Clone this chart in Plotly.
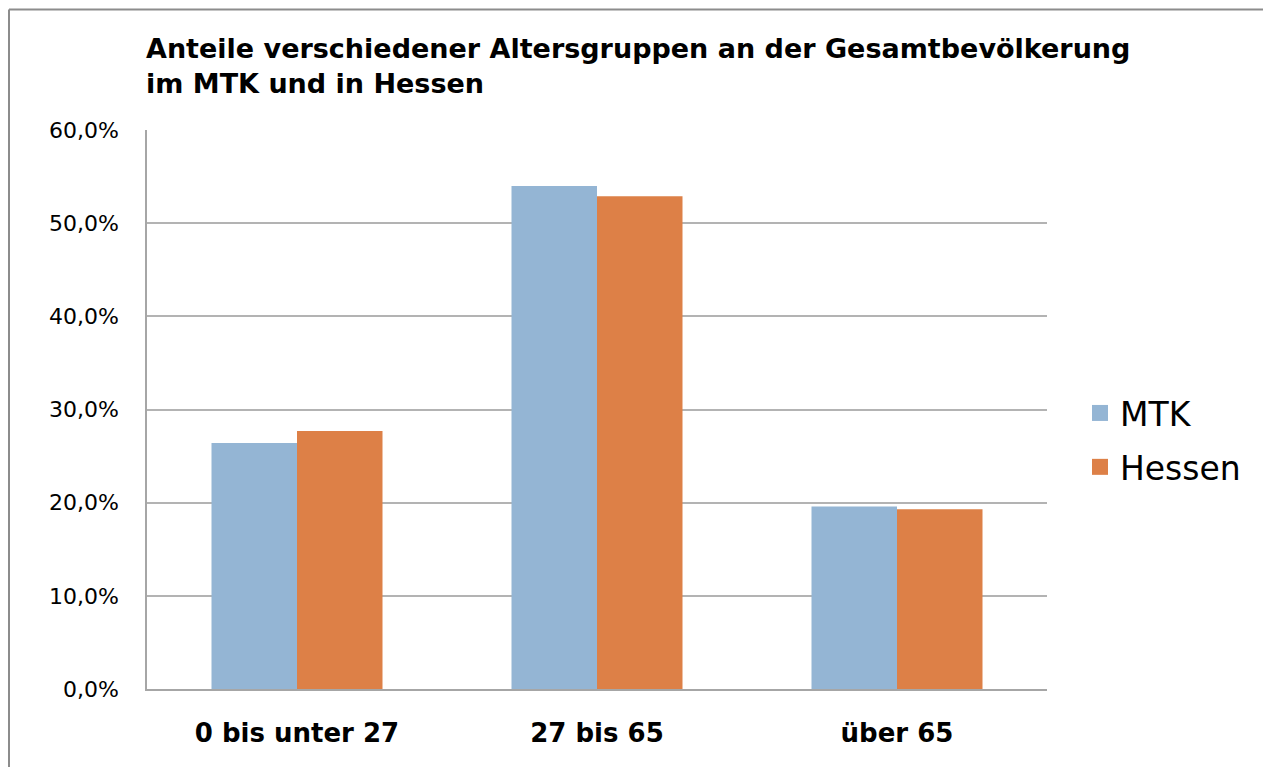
import plotly.graph_objects as go

categories = ["0 bis unter 27", "27 bis 65", "über 65"]
mtk = [26.4, 54.0, 19.6]
hessen = [27.7, 52.9, 19.3]
series_names = ["MTK", "Hessen"]
colors = ["#94B5D4", "#DD8047"]
y_ticks = [0, 10, 20, 30, 40, 50, 60]
y_tick_labels = ["0,0%", "10,0%", "20,0%", "30,0%", "40,0%", "50,0%", "60,0%"]

OFF = 8  # page body margin
W, H = 1271 - OFF, 767 - OFF
L, T = 147 - OFF, 130 - OFF
R = W - (1047 - OFF)
B = H - (689 - OFF)
pw, ph = W - L - R, H - T - B

def px_x(sx):  # screen x -> paper x
    return (sx - OFF - L) / pw

def px_y(sy):  # screen y -> paper y
    return (H - B - (sy - OFF)) / ph

fig = go.Figure()
for name, vals, col in zip(series_names, [mtk, hessen], colors):
    fig.add_trace(go.Bar(x=categories, y=vals, name=name, marker=dict(color=col, line=dict(width=0)),
                         showlegend=False))
for i, (name, col) in enumerate(zip(series_names, colors)):
    fig.add_trace(go.Scatter(x=[None], y=[None], mode="markers", name=name,
                             marker=dict(symbol="square", size=18, color=col),
                             legendgroup=f"g{i}", showlegend=True))

font_family = "DejaVu Sans, Arial, sans-serif"
fig.update_layout(
    width=W, height=H,
    margin=dict(l=L, r=R, t=T, b=B),
    paper_bgcolor="white", plot_bgcolor="white",
    barmode="group", bargap=0.43, bargroupgap=0,
    font=dict(family=font_family, color="black"),
    title=dict(text="<b>Anteile verschiedener Altersgruppen an der Gesamtbevölkerung<br>im MTK und in Hessen</b>",
               x=(146 - OFF) / W, xref="container", xanchor="left",
               y=(H - 50) / H, yref="container", yanchor="top",
               font=dict(size=27, family=font_family, color="black")),
    xaxis=dict(showgrid=False, showline=True, linecolor="#A6A6A6", linewidth=1.5,
               ticks="", ticklabelstandoff=20,
               tickfont=dict(size=26, family=font_family, weight="bold", color="black")),
    yaxis=dict(range=[0, 60], tickvals=y_ticks, ticktext=y_tick_labels,
               showgrid=True, gridcolor="#B3B3B3", gridwidth=1.5,
               showline=True, linecolor="#A6A6A6", linewidth=1.5,
               ticks="", ticklabelstandoff=22, zeroline=False,
               tickfont=dict(size=22, family=font_family, color="black")),
    legend=dict(x=px_x(1080), xanchor="left", y=px_y(440), yanchor="middle",
                font=dict(size=33, family=font_family, color="black"),
                tracegroupgap=8, itemwidth=30, bgcolor="rgba(0,0,0,0)"),
)

# outer chart border (left and top edges visible in the frame)
x_left = -(L - 1) / pw
x_right = (W - L) / pw
y_top = px_y(9.5)
y_bottom = -B / ph
fig.add_shape(type="line", xref="paper", yref="paper", x0=x_left, x1=x_right, y0=y_top, y1=y_top,
              line=dict(color="#8C8C8C", width=2))
fig.add_shape(type="line", xref="paper", yref="paper", x0=x_left, x1=x_left, y0=y_top, y1=y_bottom,
              line=dict(color="#8C8C8C", width=2))

fig.write_html("out.html")
